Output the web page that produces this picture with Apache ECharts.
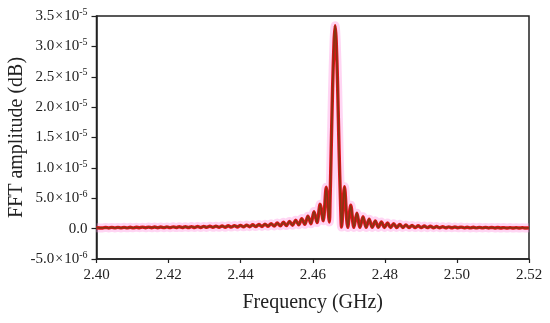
<!DOCTYPE html>
<html>
<head>
<meta charset="utf-8">
<script src="https://cdn.jsdelivr.net/npm/echarts@6/dist/echarts.min.js"></script>
<style>
html,body{margin:0;padding:0;background:#fff;}
#chart{width:550px;height:323px;}
</style>
</head>
<body>
<div id="chart"></div>
<script>
// Frequency (GHz)
var freqs = [
2.4000,2.4017,2.40255,2.4034,2.40425,2.4051,2.40595,2.4068,2.40765,2.4085,
2.40935,2.4102,2.41105,2.4119,2.41275,2.4136,2.41445,2.4153,2.41615,2.4170,
2.41785,2.4187,2.41955,2.4204,2.42125,2.4221,2.42295,2.4238,2.42465,2.4255,
2.42635,2.4272,2.42805,2.4289,2.42975,2.4306,2.43145,2.4323,2.43315,2.4340,
2.43485,2.4357,2.43655,2.4374,2.43825,2.4391,2.43995,2.4408,2.44165,2.4425,
2.44335,2.4442,2.44505,2.4459,2.44675,2.4476,2.44845,2.4493,2.45015,2.4510,
2.45185,2.4527,2.45355,2.4544,2.45525,2.4561,2.45695,2.4578,2.45865,2.4595,
2.46035,2.4612,2.46205,2.4629,2.46375,2.4646,
2.4648,2.4651,2.4655,2.4659,2.4662,2.4665,2.4669,2.4673,2.4677,2.4680,
2.4688,2.4697,2.47055,2.4714,2.47225,2.4731,2.47395,2.4748,2.47565,2.4765,
2.47735,2.4782,2.47905,2.4799,2.48075,2.4816,2.48245,2.4833,2.48415,2.4850,
2.48585,2.4867,2.48755,2.4884,2.48925,2.4901,2.49095,2.4918,2.49265,2.4935,
2.49435,2.4952,2.49605,2.4969,2.49775,2.4986,2.49945,2.5003,2.50115,2.5020,
2.50285,2.5037,2.50455,2.5054,2.50625,2.5071,2.50795,2.5088,2.50965,2.5105,
2.51135,2.5122,2.51305,2.5139,2.51475,2.5156,2.51645,2.5173,2.51815,2.5190,
2.5200
];
// FFT amplitude (in units of 1e-6)
var amps = [
0.15,0.11,0.19,0.11,0.20,0.12,0.20,0.12,0.21,0.13,
0.22,0.13,0.23,0.14,0.24,0.14,0.25,0.15,0.26,0.15,
0.27,0.16,0.28,0.16,0.29,0.17,0.30,0.17,0.32,0.18,
0.33,0.18,0.35,0.19,0.37,0.20,0.39,0.21,0.41,0.22,
0.44,0.23,0.47,0.25,0.50,0.27,0.54,0.29,0.58,0.31,
0.63,0.33,0.68,0.36,0.74,0.39,0.82,0.42,0.92,0.46,
1.04,0.50,1.18,0.55,1.38,0.62,1.65,0.70,2.05,0.80,
2.80,1.00,4.00,1.30,6.80,1.10,
4.6,12.5,23.0,30.6,33.4,31.0,23.5,13.0,4.5,0.25,
6.90,0.20,3.85,0.20,2.55,0.20,1.95,0.20,1.55,0.20,
1.28,0.20,1.08,0.19,0.93,0.19,0.80,0.18,0.70,0.18,
0.61,0.17,0.53,0.17,0.47,0.16,0.42,0.16,0.38,0.15,
0.34,0.15,0.31,0.14,0.29,0.14,0.27,0.13,0.25,0.13,
0.23,0.12,0.22,0.12,0.21,0.12,0.20,0.11,0.19,0.11,
0.18,0.11,0.17,0.10,0.17,0.10,0.16,0.10,0.16,0.10,
0.13
];
// y tick labels (value in 1e-6 units -> mantissa / exponent)
var yTickValues   = [-5, 0, 5, 10, 15, 20, 25, 30, 35];
var yTickMantissa = ['-5.0', '0.0', '5.0', '1.0', '1.5', '2.0', '2.5', '3.0', '3.5'];
var yTickExponent = ['-6', '', '-6', '-5', '-5', '-5', '-5', '-5', '-5'];

var data = freqs.map(function (f, i) { return [f, amps[i]]; });

var FONT = '"Liberation Serif","Times New Roman",serif';
var chart = echarts.init(document.getElementById('chart'), null, {renderer: 'canvas'});

function lineSeries(color, width, z) {
  return {
    type: 'line', data: data, showSymbol: false, symbol: 'none', smooth: 0.3,
    silent: true, animation: false, z: z,
    lineStyle: {color: color, width: width}
  };
}

chart.setOption({
  animation: false,
  grid: {left: 96.5, right: 21, top: 16, bottom: 64, show: true,
         outerBoundsMode: 'none', containLabel: false,
         borderColor: '#222', borderWidth: 1.5, backgroundColor: 'transparent'},
  xAxis: {
    type: 'value', min: 2.40, max: 2.52, interval: 0.02,
    name: 'Frequency (GHz)', nameLocation: 'middle', nameGap: 34,
    nameMoveOverlap: false,
    nameTextStyle: {fontFamily: FONT, fontSize: 20, color: '#222'},
    axisLine: {show: true, onZero: false, lineStyle: {color: '#222', width: 1.5}},
    axisTick: {show: true, length: 4, lineStyle: {color: '#222', width: 1.2}},
    splitLine: {show: false},
    axisLabel: {fontFamily: FONT, fontSize: 15, color: '#222', margin: 9,
      formatter: function (v) { return v.toFixed(2); }}
  },
  yAxis: {
    type: 'value', min: -5, max: 35, interval: 5,
    name: 'FFT amplitude (dB)', nameLocation: 'middle', nameGap: 70,
    nameMoveOverlap: false,
    nameTextStyle: {fontFamily: FONT, fontSize: 20, color: '#222'},
    axisLine: {show: true, lineStyle: {color: '#222', width: 1.5}},
    axisTick: {show: true, length: 5, lineStyle: {color: '#222', width: 1.2}},
    splitLine: {show: false},
    axisLabel: {
      margin: 9,
      formatter: function (v) {
        var i = yTickValues.indexOf(Math.round(v));
        if (i < 0) return '';
        if (!yTickExponent[i]) return '{b|' + yTickMantissa[i] + '}';
        return '{b|' + yTickMantissa[i] + '}{x|×}{b|10}{s|' + yTickExponent[i] + '}';
      },
      rich: {
        b: {fontFamily: FONT, fontSize: 15, color: '#222', lineHeight: 18},
        x: {fontFamily: FONT, fontSize: 14, color: '#222', lineHeight: 18, padding: [0, 1, 0, 1]},
        s: {fontFamily: FONT, fontSize: 10, color: '#222', lineHeight: 11, verticalAlign: 'top'}
      }
    }
  },
  series: [
    lineSeries('rgba(255,150,225,0.4)', 9, 1),
    lineSeries('#e3141c', 3.4, 2),
    lineSeries('#8a3412', 1.7, 3)
  ]
});
</script>
</body>
</html>
